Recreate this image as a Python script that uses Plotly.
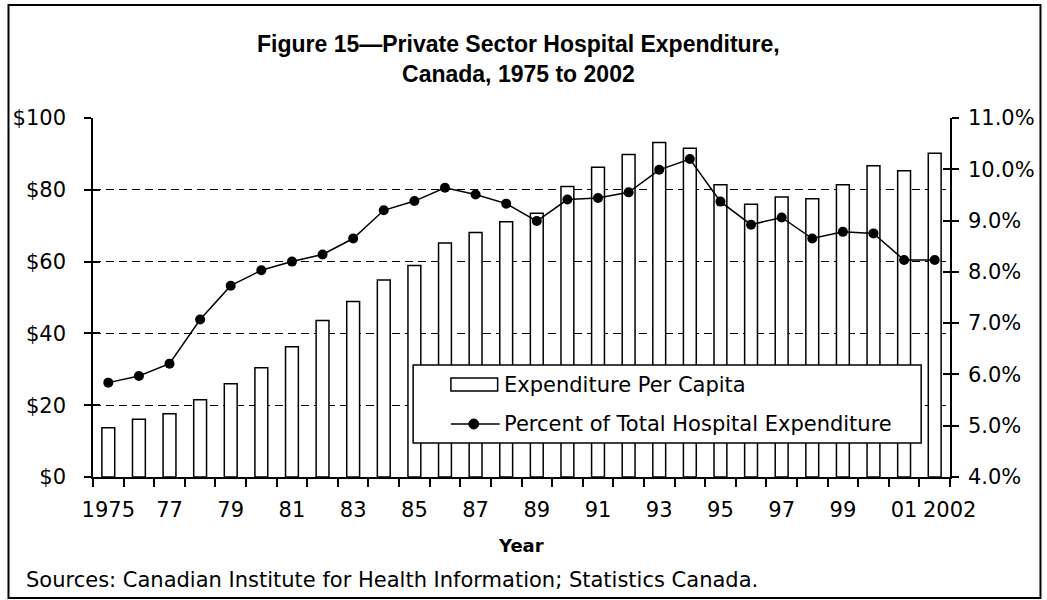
import plotly.graph_objects as go

# Data
years = [str(y) for y in range(1975, 2003)]
per_capita = [13.7, 16.1, 17.6, 21.5, 26.0, 30.4, 36.3, 43.6, 48.9, 54.9,
              58.9, 65.2, 68.1, 71.1, 73.5, 80.9, 86.3, 89.8, 93.2, 91.6,
              81.4, 76.0, 78.0, 77.5, 81.4, 86.7, 85.3, 90.2]
pct_total = [5.84, 5.97, 6.21, 7.07, 7.73, 8.03, 8.20, 8.34, 8.65, 9.20,
             9.38, 9.64, 9.51, 9.33, 8.99, 9.41, 9.44, 9.55, 9.99, 10.20,
             9.37, 8.92, 9.06, 8.65, 8.78, 8.75, 8.23, 8.23]
tick_text = ['1975', '', '77', '', '79', '', '81', '', '83', '', '85', '', '87', '',
             '89', '', '91', '', '93', '', '95', '', '97', '', '99', '', '01', '']
last_label = '2002'  # drawn on its own axis, nudged right as in the original

FONT = 'DejaVu Sans'
TITLE_FONT = 'Arial'
W, H = 1047, 600
L, R, T, B = 93, 955, 118, 477  # plot area in pixels


def px(x):
    return (x - L) / (R - L)


def py(y):
    return (B - y) / (B - T)


fig = go.Figure()

fig.add_trace(go.Bar(
    x=years, y=per_capita, name='Expenditure Per Capita',
    marker=dict(color='white', line=dict(color='black', width=1.5)),
    width=0.42, showlegend=False, yaxis='y'
))

fig.add_trace(go.Scatter(
    x=years, y=pct_total, name='Percent of Total Hospital Expenditure',
    mode='lines+markers', line=dict(color='black', width=1.5),
    marker=dict(color='black', size=10), showlegend=False, yaxis='y2'
))

tick_font = dict(family=FONT, size=21, color='black')
x_range = [-0.5, len(years) - 0.5]

fig.update_layout(
    width=W, height=H,
    margin=dict(l=L, r=W - R, t=T, b=H - B),
    paper_bgcolor='white', plot_bgcolor='white',
    font=dict(family=FONT, color='black'),
    xaxis=dict(
        type='category', categoryorder='array', categoryarray=years,
        tickvals=years, ticktext=tick_text, tickangle=0,
        tickson='boundaries', ticks='outside', ticklen=8, tickwidth=1.5,
        tickcolor='black', showline=True, linecolor='black', linewidth=1.5,
        showgrid=False, tickfont=tick_font, range=x_range,
        ticklabelstandoff=13,
    ),
    xaxis2=dict(
        type='category', categoryorder='array', categoryarray=years,
        overlaying='x', side='bottom', range=x_range,
        tickvals=[years[-1]], ticktext=[last_label], tickangle=0,
        ticks='', showline=False, showgrid=False, zeroline=False,
        tickfont=tick_font, ticklabelstandoff=18, ticklabelshift=15,
    ),
    yaxis=dict(
        range=[0, 100], dtick=20, tickprefix='$', tickfont=tick_font,
        showline=True, linecolor='black', linewidth=1.5,
        ticks='outside', ticklen=7, tickwidth=1.5, tickcolor='black',
        showgrid=True, gridcolor='black', gridwidth=1, griddash='8px,5px',
        zeroline=False, ticklabelstandoff=14,
    ),
    yaxis2=dict(
        range=[4, 11], dtick=1, tickformat='.1f', ticksuffix='%',
        tickfont=tick_font, overlaying='y', side='right',
        showline=True, linecolor='black', linewidth=1.5,
        ticks='outside', ticklen=7, tickwidth=1.5, tickcolor='black',
        showgrid=False, zeroline=False, ticklabelstandoff=5,
    ),
    # inner halves of the crossing ticks
    yaxis3=dict(
        range=[0, 100], dtick=20, overlaying='y', side='left',
        ticks='inside', ticklen=7, tickwidth=1.5, tickcolor='black',
        showticklabels=False, showgrid=False, zeroline=False,
    ),
    yaxis4=dict(
        range=[4, 11], dtick=1, overlaying='y', side='right',
        ticks='inside', ticklen=7, tickwidth=1.5, tickcolor='black',
        showticklabels=False, showgrid=False, zeroline=False,
    ),
)

# empty traces so the extra axes get drawn
fig.add_trace(go.Scatter(x=[years[0]], y=[None], xaxis='x2', yaxis='y3',
                         showlegend=False, hoverinfo='skip'))
fig.add_trace(go.Scatter(x=[years[0]], y=[None], yaxis='y4',
                         showlegend=False, hoverinfo='skip'))

shapes = [
    # outer frame
    dict(type='rect', xref='paper', yref='paper', x0=px(8), x1=px(1046), y0=py(598), y1=py(5),
         line=dict(color='black', width=2), fillcolor='rgba(0,0,0,0)', layer='above'),
    # legend box
    dict(type='rect', xref='paper', yref='paper', x0=px(415), x1=px(926), y0=py(443), y1=py(365),
         line=dict(color='black', width=1.5), fillcolor='white', layer='above'),
    # legend bar symbol
    dict(type='rect', xref='paper', yref='paper', x0=px(453), x1=px(500), y0=py(391), y1=py(378),
         line=dict(color='black', width=1.5), fillcolor='white', layer='above'),
    # legend line symbol
    dict(type='line', xref='paper', yref='paper', x0=px(453), x1=px(502), y0=py(424), y1=py(424),
         line=dict(color='black', width=1.5), layer='above'),
    dict(type='circle', xref='paper', yref='paper', x0=px(471), x1=px(481), y0=py(429), y1=py(419),
         line=dict(color='black', width=1), fillcolor='black', layer='above'),
]
fig.update_layout(shapes=shapes)

annotations = [
    dict(text='<b>Figure 15\u2014Private Sector Hospital Expenditure,<br>Canada, 1975 to 2002</b>',
         x=px(521), y=py(59), xref='paper', yref='paper', showarrow=False,
         xanchor='center', yanchor='middle', font=dict(family=TITLE_FONT, size=23)),
    dict(text='<b>Year</b>', x=px(523), y=py(545), xref='paper', yref='paper', showarrow=False,
         xanchor='center', yanchor='middle', font=dict(family=FONT, size=18)),
    dict(text='Sources: Canadian Institute for Health Information; Statistics Canada.',
         x=px(24), y=py(580), xref='paper', yref='paper', showarrow=False,
         xanchor='left', yanchor='middle', font=dict(family=FONT, size=21)),
    dict(text='Expenditure Per Capita', x=px(504), y=py(385), xref='paper', yref='paper',
         showarrow=False, xanchor='left', yanchor='middle', font=dict(family=FONT, size=21)),
    dict(text='Percent of Total Hospital Expenditure', x=px(504), y=py(424), xref='paper',
         yref='paper', showarrow=False, xanchor='left', yanchor='middle',
         font=dict(family=FONT, size=21)),
]
fig.update_layout(annotations=annotations)

# drop the default page margin so the figure sits at the window origin
fig.write_html("out.html", config={'displayModeBar': False},
               post_script="document.body.style.margin='0';")
